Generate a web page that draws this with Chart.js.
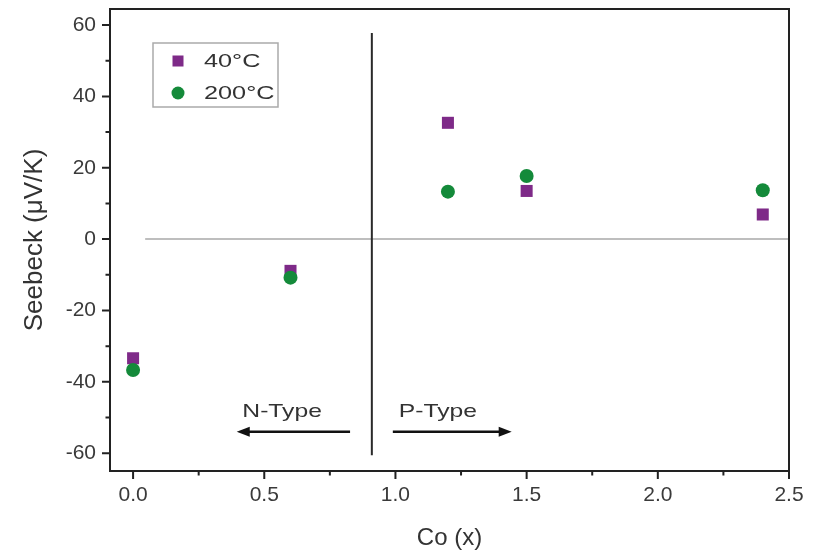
<!DOCTYPE html>
<html>
<head>
<meta charset="utf-8">
<script src="https://cdn.jsdelivr.net/npm/chart.js@4/dist/chart.umd.min.js"></script>
<style>
html,body{margin:0;padding:0;background:#fff;}
#wrap{width:820px;height:553px;position:relative;}
</style>
</head>
<body>
<div id="wrap"><canvas id="c" width="820" height="553"></canvas></div>
<script>
// ---- data ----
const coX = [0, 0.6, 1.2, 1.5, 2.4];
const seebeck40 = [-33.4, -8.9, 32.6, 13.5, 6.9];
const seebeck200 = [-36.7, -10.8, 13.3, 17.7, 13.7];
const seriesLabels = ['40°C', '200°C'];
const xTickValues = [0, 0.5, 1.0, 1.5, 2.0, 2.5];
const xMinorValues = [0.25, 0.75, 1.25, 1.75, 2.25];
const yTickValues = [-60, -40, -20, 0, 20, 40, 60];
const yMinorValues = [-50, -30, -10, 10, 30, 50];
// annotations (data coordinates)
const zeroLine = {x0: 0.046, x1: 2.5, y: 0};
const dividerLine = {x: 0.91, y0: 57.8, y1: -60.6};
const nArrow = {from: 0.827, to: 0.395, y: -54.0, label: 'N-Type', lx: 0.568, ly: -48.4};
const pArrow = {from: 0.99, to: 1.443, y: -54.0, label: 'P-Type', lx: 1.162, ly: -48.4};

const PURPLE = '#7e2a88';
const GREEN = '#148a3a';
const FONT = '"Liberation Sans", Arial, sans-serif';

function wideText(ctx, text, x, y, size, align, stretch) {
  ctx.save();
  ctx.font = size + 'px ' + FONT;
  ctx.textBaseline = 'middle';
  ctx.textAlign = align;
  ctx.translate(x, y);
  ctx.scale(stretch, 1);
  ctx.fillText(text, 0, 0);
  ctx.restore();
}

const decor = {
  id: 'decor',
  beforeDatasetsDraw(chart) {
    const ctx = chart.ctx, xs = chart.scales.x, ys = chart.scales.y;
    ctx.save();
    ctx.strokeStyle = '#a8a8a8'; ctx.lineWidth = 1.5;
    ctx.beginPath();
    ctx.moveTo(xs.getPixelForValue(zeroLine.x0), ys.getPixelForValue(zeroLine.y));
    ctx.lineTo(xs.getPixelForValue(zeroLine.x1), ys.getPixelForValue(zeroLine.y));
    ctx.stroke();
    ctx.strokeStyle = '#2a2a2a'; ctx.lineWidth = 2;
    ctx.beginPath();
    ctx.moveTo(xs.getPixelForValue(dividerLine.x), ys.getPixelForValue(dividerLine.y0));
    ctx.lineTo(xs.getPixelForValue(dividerLine.x), ys.getPixelForValue(dividerLine.y1));
    ctx.stroke();
    [nArrow, pArrow].forEach(a => {
      const x0 = xs.getPixelForValue(a.from), x1 = xs.getPixelForValue(a.to), y = ys.getPixelForValue(a.y);
      const dir = Math.sign(x1 - x0);
      ctx.strokeStyle = '#111'; ctx.fillStyle = '#111'; ctx.lineWidth = 2.5;
      ctx.beginPath(); ctx.moveTo(x0, y); ctx.lineTo(x1 - dir * 8, y); ctx.stroke();
      ctx.beginPath();
      ctx.moveTo(x1, y); ctx.lineTo(x1 - dir * 13, y - 5); ctx.lineTo(x1 - dir * 13, y + 5); ctx.closePath(); ctx.fill();
      ctx.fillStyle = '#333';
      wideText(ctx, a.label, xs.getPixelForValue(a.lx), ys.getPixelForValue(a.ly), 19, 'center', 1.3);
    });
    ctx.restore();
  },
  afterDraw(chart) {
    const ctx = chart.ctx, xs = chart.scales.x, ys = chart.scales.y, ca = chart.chartArea;
    ctx.save();
    ctx.strokeStyle = '#222'; ctx.lineWidth = 2;
    ctx.strokeRect(ca.left, ca.top, ca.right - ca.left, ca.bottom - ca.top);
    ctx.lineWidth = 2; ctx.beginPath();
    xTickValues.forEach(v => { const p = xs.getPixelForValue(v); ctx.moveTo(p, ca.bottom); ctx.lineTo(p, ca.bottom + 8); });
    xMinorValues.forEach(v => { const p = xs.getPixelForValue(v); ctx.moveTo(p, ca.bottom); ctx.lineTo(p, ca.bottom + 4.5); });
    yTickValues.forEach(v => { const p = ys.getPixelForValue(v); ctx.moveTo(ca.left, p); ctx.lineTo(ca.left - 8, p); });
    yMinorValues.forEach(v => { const p = ys.getPixelForValue(v); ctx.moveTo(ca.left, p); ctx.lineTo(ca.left - 4.5, p); });
    ctx.stroke();
    const bx = 153, by = 43, bw = 125, bh = 64;
    ctx.fillStyle = '#fff'; ctx.fillRect(bx, by, bw, bh);
    ctx.strokeStyle = '#aaaaaa'; ctx.lineWidth = 1.5; ctx.strokeRect(bx, by, bw, bh);
    const metas = chart.data.datasets;
    const rows = [by + 18, by + 50];
    metas.forEach((ds, i) => {
      const y = rows[i];
      ctx.fillStyle = ds.backgroundColor;
      if (ds.pointStyle === 'rect') ctx.fillRect(178 - 5.5, y - 5.5, 11, 11);
      else { ctx.beginPath(); ctx.arc(178, y, 6.5, 0, Math.PI * 2); ctx.fill(); }
      ctx.fillStyle = '#333';
      wideText(ctx, ds.label, 204, y + 1, 19, 'left', 1.33);
    });
    ctx.restore();
  }
};

new Chart(document.getElementById('c'), {
  type: 'scatter',
  data: {
    datasets: [
      { label: seriesLabels[0], data: coX.map((x, i) => ({x, y: seebeck40[i]})),
        pointStyle: 'rect', pointRadius: 8.5, pointHoverRadius: 8.5, backgroundColor: PURPLE, borderColor: PURPLE, borderWidth: 0, order: 2 },
      { label: seriesLabels[1], data: coX.map((x, i) => ({x, y: seebeck200[i]})),
        pointStyle: 'circle', pointRadius: 7, pointHoverRadius: 7, backgroundColor: GREEN, borderColor: GREEN, borderWidth: 0, order: 1 }
    ]
  },
  options: {
    responsive: false,
    animation: false,
    events: [],
    layout: { padding: { top: 9, right: 31, left: 0, bottom: 0 } },
    plugins: { legend: { display: false }, tooltip: { enabled: false } },
    scales: {
      x: {
        type: 'linear', min: -0.088, max: 2.5,
        afterBuildTicks: s => { s.ticks = xTickValues.map(v => ({value: v})); },
        afterFit: s => { s.height = 82; s.paddingLeft = 0; s.paddingRight = 0; },
        grid: { display: false, drawTicks: false },
        border: { display: false },
        ticks: { padding: 12, color: '#3a3a3a', font: { family: FONT, size: 21 }, callback: v => v.toFixed(1), maxRotation: 0 },
        title: { display: true, text: 'Co (x)', color: '#333', font: { family: FONT, size: 24 }, padding: { top: 0, bottom: 0 } }
      },
      y: {
        type: 'linear', min: -65, max: 64.5,
        afterBuildTicks: s => { s.ticks = yTickValues.map(v => ({value: v})); },
        afterFit: s => { s.width = 110; s.paddingTop = 0; s.paddingBottom = 0; },
        grid: { display: false, drawTicks: false },
        border: { display: false },
        ticks: { padding: 14, color: '#3a3a3a', font: { family: FONT, size: 21 } },
        title: { display: true, text: 'Seebeck (μV/K)', color: '#333', font: { family: FONT, size: 26 }, padding: { top: 19, bottom: 0 } }
      }
    }
  },
  plugins: [decor]
});
</script>
</body>
</html>
